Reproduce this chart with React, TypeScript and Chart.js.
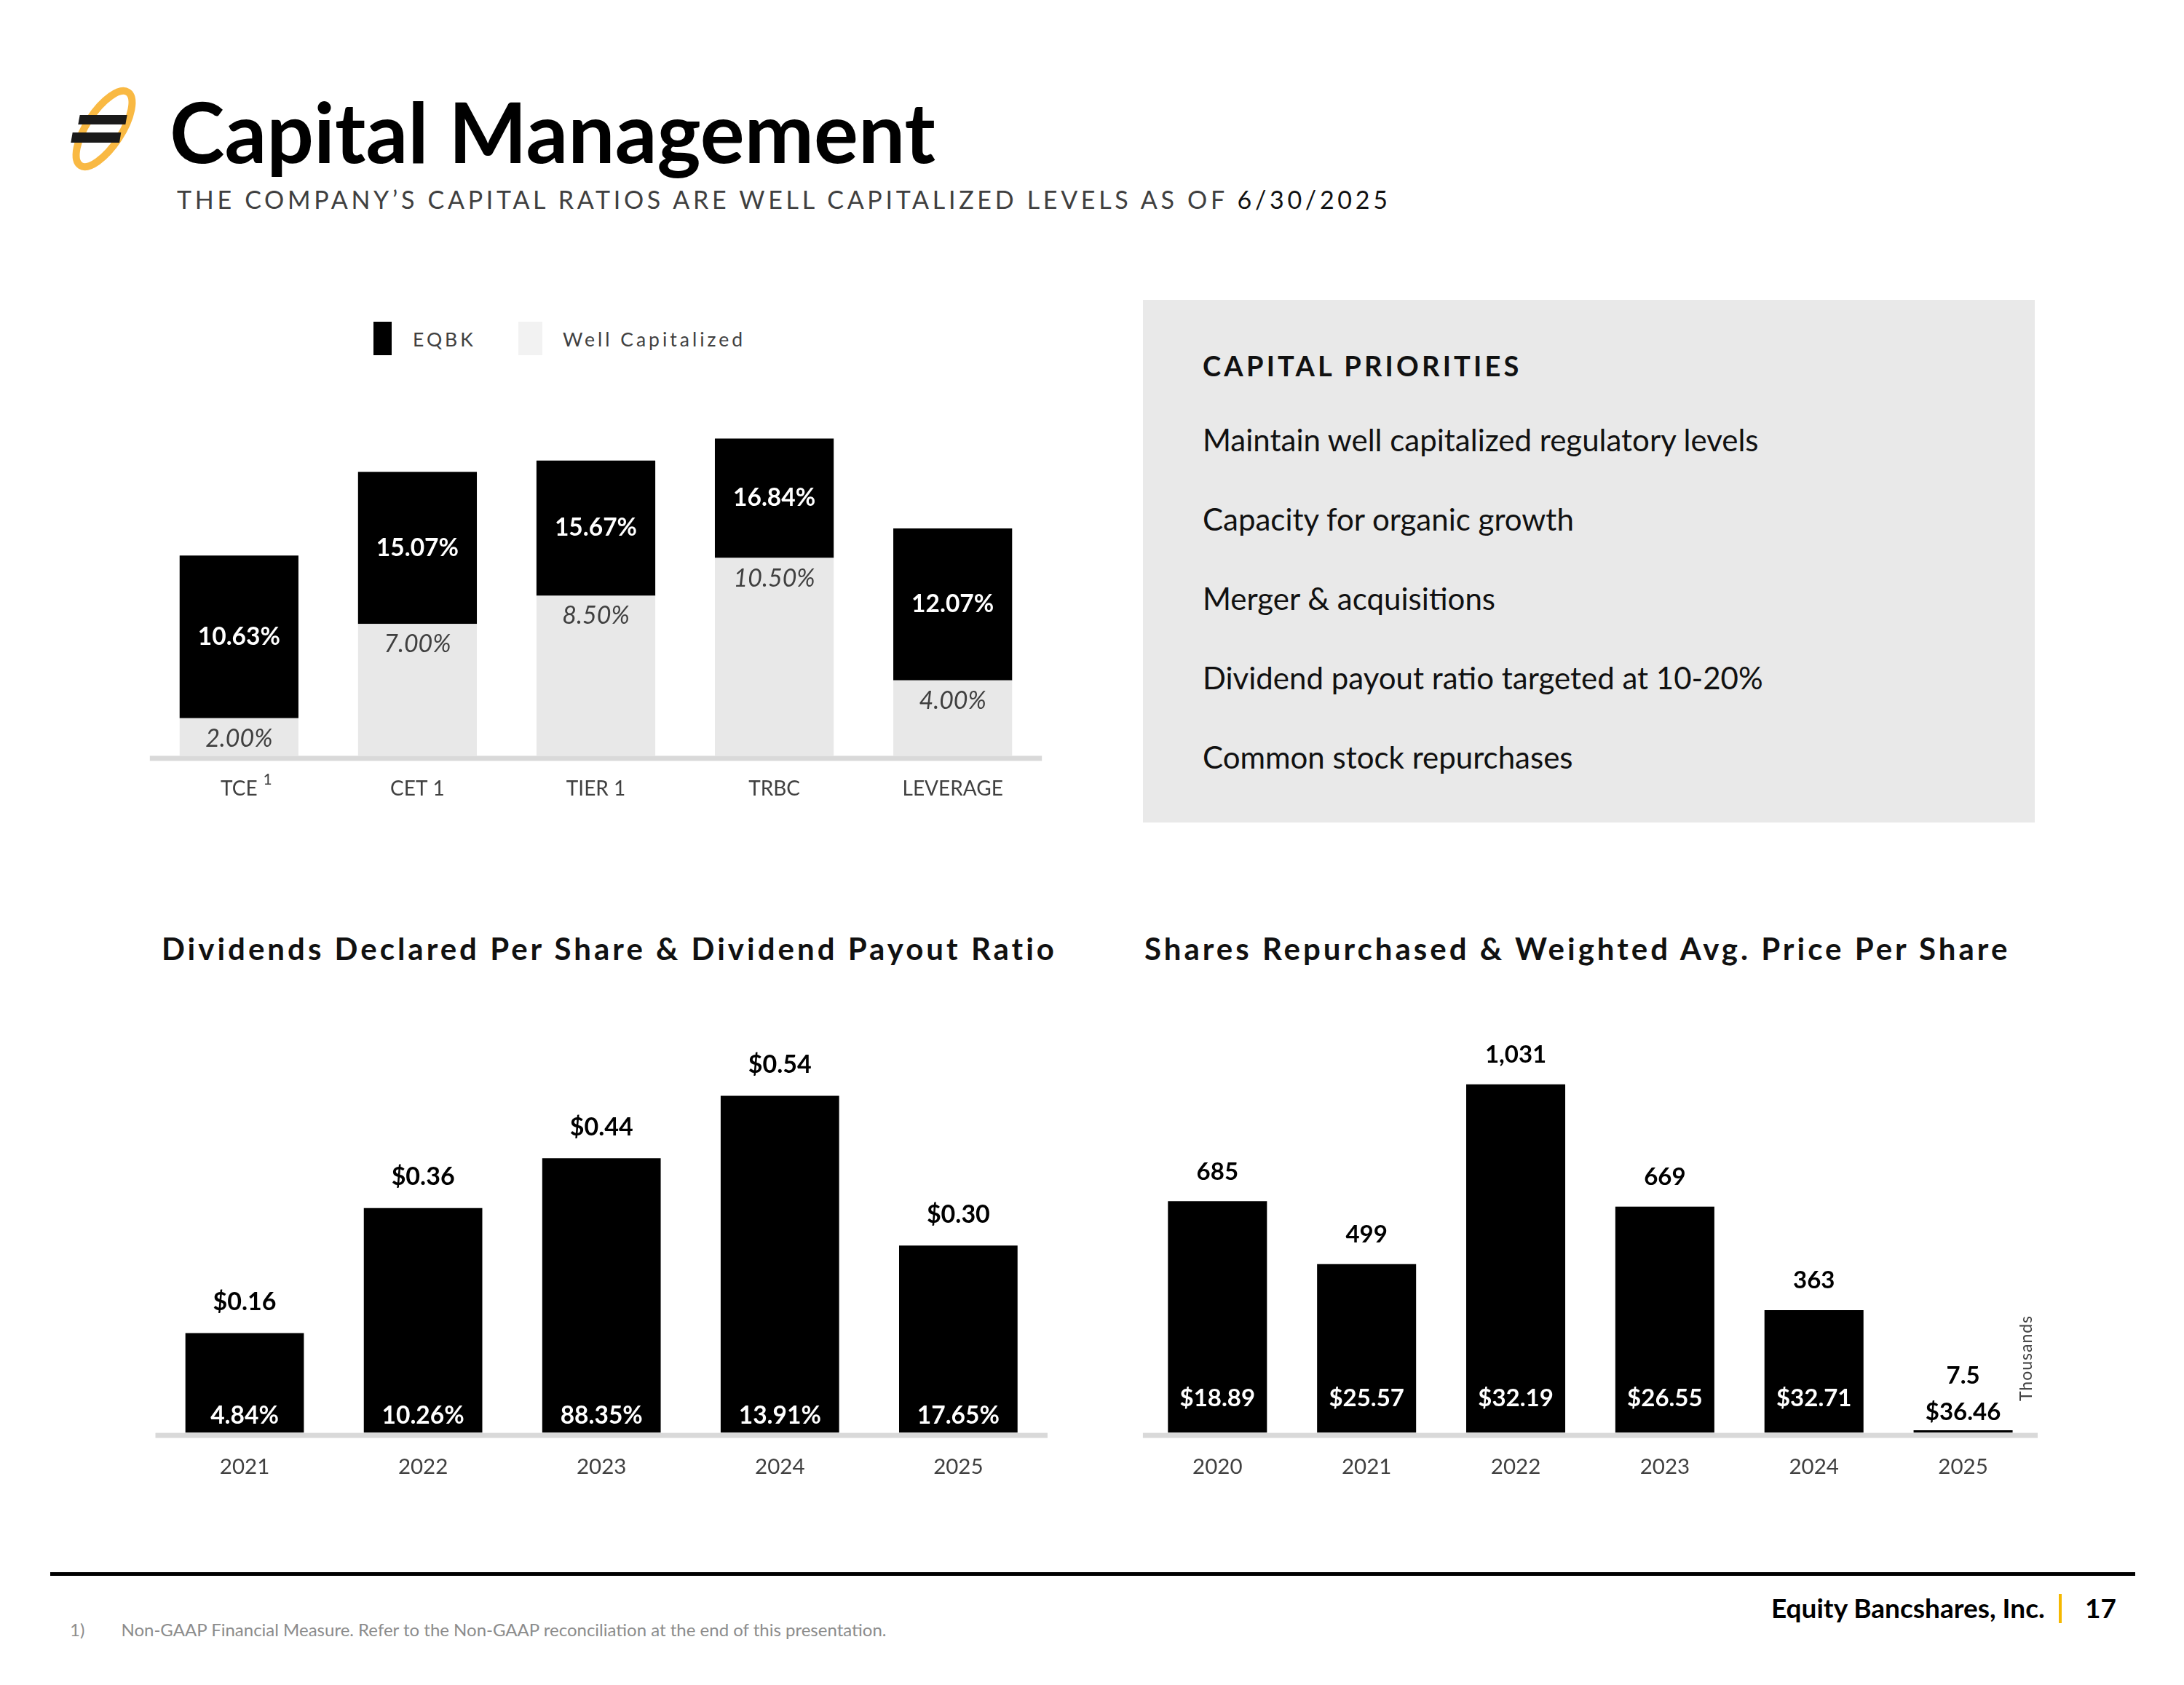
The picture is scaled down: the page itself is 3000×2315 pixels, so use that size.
import React, { useEffect, useRef } from "react";
import { Chart, registerables } from "chart.js";

Chart.register(...registerables);

const FONT = "Lato, 'Open Sans', 'DejaVu Sans', sans-serif";

// ---- Capital ratios (top-left) ----
const ratioCategories = ["TCE", "CET 1", "TIER 1", "TRBC", "LEVERAGE"];
const ratioFootnoteMarks = ["1", "", "", "", ""];
const eqbkValues = [10.63, 15.07, 15.67, 16.84, 12.07];
const wellCapitalizedValues = [2.0, 7.0, 8.5, 10.5, 4.0];

// ---- Dividends (bottom-left) ----
const dividendYears = ["2021", "2022", "2023", "2024", "2025"];
const dividendsPerShare = [0.16, 0.36, 0.44, 0.54, 0.3];
const payoutRatios = [4.84, 10.26, 88.35, 13.91, 17.65];

// ---- Share repurchases (bottom-right), thousands of shares ----
const repurchaseYears = ["2020", "2021", "2022", "2023", "2024", "2025"];
const sharesRepurchased = [685, 499, 1031, 669, 363, 7.5];
const avgPrices = [18.89, 25.57, 32.19, 26.55, 32.71, 36.46];

const priorities = [
  "Maintain well capitalized regulatory levels",
  "Capacity for organic growth",
  "Merger & acquisitions",
  "Dividend payout ratio targeted at 10-20%",
  "Common stock repurchases",
];

const AXIS_GRAY = "#d9d9d9";
const TICK_SIZE = 28;
const TICK_PAD = 29;

function baseLinePlugin(color: string, width: number) {
  return {
    id: "baseLine",
    afterDatasetsDraw(chart: any) {
      const { ctx, chartArea } = chart;
      ctx.save();
      ctx.fillStyle = color;
      ctx.fillRect(chartArea.left, chartArea.bottom, chartArea.right - chartArea.left, width);
      ctx.restore();
    },
  };
}

function xAxis(font = TICK_SIZE) {
  return {
    offset: true,
    grid: { display: false, drawTicks: false },
    border: { display: false },
    ticks: { color: "#404040", font: { family: FONT, size: font }, padding: TICK_PAD },
  };
}

function ChartCanvas(props: { left: number; top: number; width: number; height: number; build: () => any }) {
  const ref = useRef<HTMLCanvasElement>(null);
  useEffect(() => {
    if (!ref.current) return;
    const chart = new Chart(ref.current, props.build());
    return () => chart.destroy();
  }, []);
  return (
    <canvas
      ref={ref}
      width={props.width}
      height={props.height}
      style={{ position: "absolute", left: props.left, top: props.top, width: props.width, height: props.height }}
    />
  );
}

function buildRatios() {
  const labels = {
    id: "ratioLabels",
    afterDatasetsDraw(chart: any) {
      const ctx = chart.ctx;
      ctx.save();
      ctx.textAlign = "center";
      ctx.textBaseline = "middle";
      const wc = chart.getDatasetMeta(0);
      ctx.font = `italic 34px ${FONT}`;
      ctx.fillStyle = "#404040";
      wc.data.forEach((bar: any, i: number) => {
        const p = bar.getProps(["x", "y"], true);
        ctx.fillText(wellCapitalizedValues[i].toFixed(2) + "%", p.x, p.y + 28);
      });
      const eq = chart.getDatasetMeta(1);
      ctx.font = `bold 33.5px ${FONT}`;
      ctx.fillStyle = "#ffffff";
      eq.data.forEach((bar: any, i: number) => {
        const p = bar.getProps(["x", "y", "base"], true);
        ctx.fillText(eqbkValues[i].toFixed(2) + "%", p.x, (p.y + p.base) / 2);
      });
      // footnote superscripts next to category tick labels
      const xs = chart.scales.x;
      const labelCenter = xs.top + TICK_PAD + (TICK_SIZE * 1.2) / 2;
      ratioFootnoteMarks.forEach((mark, i) => {
        if (!mark) return;
        ctx.font = `${TICK_SIZE}px ${FONT}`;
        const half = ctx.measureText(ratioCategories[i]).width / 2;
        ctx.font = `21px ${FONT}`;
        ctx.fillStyle = "#404040";
        ctx.textAlign = "left";
        ctx.fillText(mark, xs.getPixelForTick(i) + half + 8, labelCenter - 13);
      });
      ctx.restore();
    },
  };
  return {
    type: "bar",
    data: {
      labels: ratioCategories,
      datasets: [
        {
          label: "Well Capitalized",
          data: wellCapitalizedValues,
          backgroundColor: "#e8e8e8",
          grouped: false,
          barPercentage: 0.666,
          categoryPercentage: 1,
          borderWidth: 0,
        },
        {
          label: "EQBK",
          data: eqbkValues.map((v, i) => [wellCapitalizedValues[i], v]),
          backgroundColor: "#000000",
          grouped: false,
          barPercentage: 0.666,
          categoryPercentage: 1,
          borderWidth: 0,
        },
      ],
    },
    options: {
      responsive: false,
      animation: false,
      layout: { padding: { top: 20.7, left: 7.8, right: 11.8, bottom: 0 } },
      plugins: { legend: { display: false }, tooltip: { enabled: false } },
      scales: {
        x: xAxis(),
        y: { display: false, min: 0, max: 20 },
      },
    },
    plugins: [baseLinePlugin(AXIS_GRAY, 7), labels],
  };
}

function buildDividends() {
  const labels = {
    id: "divLabels",
    afterDatasetsDraw(chart: any) {
      const ctx = chart.ctx;
      ctx.save();
      ctx.textAlign = "center";
      ctx.textBaseline = "middle";
      const meta = chart.getDatasetMeta(0);
      meta.data.forEach((bar: any, i: number) => {
        const p = bar.getProps(["x", "y", "base"], true);
        ctx.font = `bold 34px ${FONT}`;
        ctx.fillStyle = "#000000";
        ctx.fillText("$" + dividendsPerShare[i].toFixed(2), p.x, p.y - 42.5);
        ctx.font = `bold 33.5px ${FONT}`;
        ctx.fillStyle = "#ffffff";
        ctx.fillText(payoutRatios[i].toFixed(2) + "%", p.x, p.base - 23);
      });
      ctx.restore();
    },
  };
  return {
    type: "bar",
    data: {
      labels: dividendYears,
      datasets: [
        {
          label: "Dividends Declared Per Share",
          data: dividendsPerShare,
          backgroundColor: "#000000",
          barPercentage: 0.664,
          categoryPercentage: 1,
          borderWidth: 0,
        },
      ],
    },
    options: {
      responsive: false,
      animation: false,
      layout: { padding: { top: 23.3, left: 15.5, right: 14.1, bottom: 0 } },
      plugins: { legend: { display: false }, tooltip: { enabled: false } },
      scales: {
        x: xAxis(29.5),
        y: { display: false, min: 0, max: 0.7 },
      },
    },
    plugins: [baseLinePlugin(AXIS_GRAY, 7), labels],
  };
}

function buildRepurchases() {
  const labels = {
    id: "repLabels",
    afterDatasetsDraw(chart: any) {
      const ctx = chart.ctx;
      ctx.save();
      ctx.textAlign = "center";
      ctx.textBaseline = "middle";
      ctx.font = `bold 33px ${FONT}`;
      const meta = chart.getDatasetMeta(0);
      meta.data.forEach((bar: any, i: number) => {
        const p = bar.getProps(["x", "y", "base"], true);
        const h = p.base - p.y;
        const count = sharesRepurchased[i].toLocaleString("en-US");
        const price = "$" + avgPrices[i].toFixed(2);
        ctx.fillStyle = "#000000";
        if (h < 100) {
          ctx.fillText(count, p.x, p.y - 75);
          ctx.fillText(price, p.x, p.y - 25);
        } else {
          ctx.fillText(count, p.x, p.y - 40.5);
          ctx.fillStyle = "#ffffff";
          ctx.fillText(price, p.x, p.base - 47.5);
        }
      });
      ctx.restore();
    },
  };
  return {
    type: "bar",
    data: {
      labels: repurchaseYears,
      datasets: [
        {
          label: "Shares Repurchased (thousands)",
          data: sharesRepurchased,
          backgroundColor: "#000000",
          barPercentage: 0.664,
          categoryPercentage: 1,
          borderWidth: 0,
        },
      ],
    },
    options: {
      responsive: false,
      animation: false,
      layout: { padding: { top: 13.2, left: 7.9, right: 13, bottom: 0 } },
      plugins: { legend: { display: false }, tooltip: { enabled: false } },
      scales: {
        x: xAxis(29.5),
        y: { display: false, min: 0, max: 1400 },
      },
    },
    plugins: [baseLinePlugin(AXIS_GRAY, 7), labels],
  };
}

function Logo() {
  return (
    <svg
      width={100}
      height={125}
      viewBox="0 0 100 125"
      style={{ position: "absolute", left: 93, top: 114 }}
    >
      <ellipse
        cx={50}
        cy={63}
        rx={24}
        ry={60}
        fill="none"
        stroke="#f9b943"
        strokeWidth={10}
        transform="rotate(33 50 63)"
      />
      <polygon points="16.7,44 81.7,44 79.3,57 14.3,57" fill="#1a1a1a" />
      <polygon points="6.7,68 73.3,68 71,82 4.3,82" fill="#1a1a1a" />
    </svg>
  );
}

const abs = (style: React.CSSProperties): React.CSSProperties => ({ position: "absolute", whiteSpace: "nowrap", ...style });

const priorityCenters = [605, 714, 823, 932, 1041.5];

export default function App() {
  useEffect(() => {
    document.body.style.margin = "0";
  }, []);
  return (
    <div
      style={{
        position: "absolute",
        left: 0,
        top: 0,
        width: 3000,
        height: 2315,
        background: "#ffffff",
        overflow: "hidden",
        fontFamily: FONT,
        color: "#000",
      }}
    >
      <Logo />
      <div style={abs({ left: 233, top: 123, fontSize: 114, fontWeight: 700, lineHeight: 1, color: "#000" })}>
        Capital Management
      </div>
      <div
        style={abs({
          left: 243,
          top: 257,
          fontSize: 34,
          lineHeight: 1,
          letterSpacing: 4.7,
          color: "#404040",
        })}
      >
        THE COMPANY’S CAPITAL RATIOS ARE WELL CAPITALIZED LEVELS AS OF{" "}
        <span style={{ color: "#111" }}>6/30/2025</span>
      </div>

      {/* Legend */}
      <div style={abs({ left: 513, top: 442, width: 25, height: 46, background: "#000" })} />
      <div style={abs({ left: 567, top: 453, fontSize: 26.5, lineHeight: 1, letterSpacing: 4, color: "#404040" })}>EQBK</div>
      <div style={abs({ left: 712, top: 442, width: 33, height: 46, background: "#f2f2f2" })} />
      <div style={abs({ left: 773, top: 453, fontSize: 26.5, lineHeight: 1, letterSpacing: 4, color: "#404040" })}>
        Well Capitalized
      </div>

      <ChartCanvas left={198} top={500} width={1245} height={630} build={buildRatios} />

      {/* Capital priorities */}
      <div style={abs({ left: 1570, top: 412, width: 1225, height: 718, background: "#e9e9e9" })} />
      <div style={abs({ left: 1652, top: 483, fontSize: 38, fontWeight: 700, lineHeight: 1, letterSpacing: 4.2, color: "#111" })}>
        CAPITAL PRIORITIES
      </div>
      {priorities.map((p, i) => (
        <div
          key={p}
          style={abs({ left: 1652, top: priorityCenters[i] - 22.3, fontSize: 42, lineHeight: 1, color: "#111" })}
        >
          {p}
        </div>
      ))}

      {/* Bottom titles */}
      <div style={abs({ left: 222, top: 1281.5, fontSize: 42, fontWeight: 700, lineHeight: 1, letterSpacing: 4, color: "#111" })}>
        Dividends Declared Per Share &amp; Dividend Payout Ratio
      </div>
      <div style={abs({ left: 1572, top: 1281.5, fontSize: 42, fontWeight: 700, lineHeight: 1, letterSpacing: 4, color: "#111" })}>
        Shares Repurchased &amp; Weighted Avg. Price Per Share
      </div>

      <ChartCanvas left={198} top={1345} width={1255} height={717} build={buildDividends} />
      <ChartCanvas left={1562} top={1305} width={1250} height={757} build={buildRepurchases} />

      <div
        style={abs({
          left: 2782 - 70,
          top: 1866 - 14,
          width: 140,
          textAlign: "center",
          fontSize: 23,
          lineHeight: "28px",
          letterSpacing: 1,
          color: "#404040",
          transform: "rotate(-90deg)",
        })}
      >
        Thousands
      </div>

      {/* Footer */}
      <div style={abs({ left: 69, top: 2160, width: 2864, height: 5, background: "#000" })} />
      <div style={abs({ left: 2433, top: 2189.5, fontSize: 37, fontWeight: 700, lineHeight: 1, color: "#000" })}>
        Equity Bancshares, Inc.
      </div>
      <div style={abs({ left: 2828, top: 2190, width: 4, height: 40, background: "#f5b800" })} />
      <div style={abs({ left: 2864, top: 2189.5, fontSize: 37, fontWeight: 700, lineHeight: 1, color: "#000" })}>17</div>
      <div style={abs({ left: 96, top: 2227, fontSize: 24, lineHeight: 1, color: "#8c8c8c" })}>1)</div>
      <div style={abs({ left: 166.5, top: 2227, fontSize: 24, lineHeight: 1, color: "#8c8c8c" })}>
        Non-GAAP Financial Measure. Refer to the Non-GAAP reconciliation at the end of this presentation.
      </div>
    </div>
  );
}
